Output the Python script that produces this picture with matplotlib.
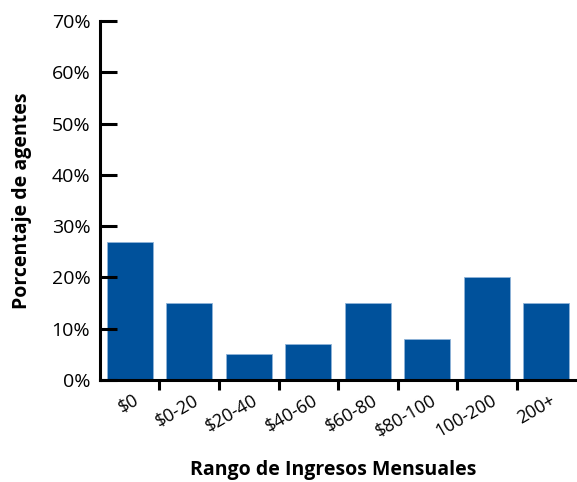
import matplotlib
matplotlib.use('Agg')
import matplotlib.pyplot as plt
from matplotlib.ticker import FixedLocator, PercentFormatter

plt.rcParams['font.family'] = ['Open Sans', 'DejaVu Sans']

categories = ['$0', '$0-20', '$20-40', '$40-60', '$60-80', '$80-100', '100-200', '200+']
percentages = [27, 15, 5, 7, 15, 8, 20, 15]
y_ticks = [0, 10, 20, 30, 40, 50, 60, 70]

fig = plt.figure(figsize=(5.77, 4.82), dpi=100)
ax = fig.add_axes([0.1733, 0.2116, 0.8250, 0.7450])

pos = list(range(len(categories)))
ax.bar(pos, percentages, width=0.77, color='#00519b', edgecolor='#8fb4d8', linewidth=0.6)

ax.set_xlim(-0.5, len(categories) - 0.5)
ax.set_ylim(0, 70)
ax.set_yticks(y_ticks)
ax.yaxis.set_major_formatter(PercentFormatter(decimals=0))
ax.tick_params(axis='y', direction='in', length=12, width=2.2, labelsize=14, pad=7)

ax.set_xticks([p + 0.06 for p in pos])
ax.set_xticklabels(categories, rotation=30, ha='right', rotation_mode='anchor', fontsize=13)
ax.tick_params(axis='x', which='major', length=0, pad=8)
ax.xaxis.set_minor_locator(FixedLocator([p + 0.5 for p in pos[:-1]]))
ax.tick_params(axis='x', which='minor', direction='out', length=7, width=2.2)

for s in ['top', 'right']:
    ax.spines[s].set_visible(False)
for s in ['left', 'bottom']:
    ax.spines[s].set_linewidth(2.2)

ax.set_ylabel('Porcentaje de agentes', fontsize=14, fontweight='bold', labelpad=14)
fig.text(0.577, 1 - 470 / 482, 'Rango de Ingresos Mensuales', fontsize=14,
         fontweight='bold', ha='center', va='center')

fig.savefig('out.png', dpi=100)
